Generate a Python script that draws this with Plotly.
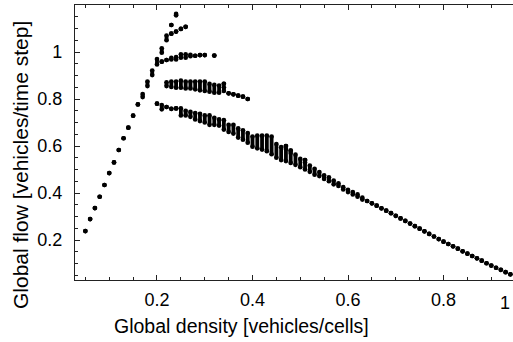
import plotly.graph_objects as go

# Each row: density, lowest flow, highest flow of the cluster of runs at that density
density = [
    0.05, 0.06, 0.07, 0.08, 0.09, 0.10, 0.11, 0.12, 0.13, 0.14, 0.15, 0.16,
    0.17, 0.18, 0.19, 0.20, 0.21, 0.22, 0.23, 0.24,
    0.23, 0.24, 0.25, 0.26,
    0.21, 0.22, 0.23, 0.24, 0.25, 0.26, 0.27, 0.28, 0.29, 0.30, 0.32,
    0.22, 0.23, 0.24, 0.25, 0.26, 0.27, 0.28, 0.29, 0.30, 0.31, 0.32, 0.33, 0.34, 0.34,
    0.35, 0.36, 0.37, 0.38, 0.39,
    0.20, 0.21, 0.22, 0.23, 0.24, 0.25, 0.26, 0.27, 0.28, 0.29, 0.30, 0.31, 0.32, 0.33,
    0.34, 0.35, 0.36, 0.37, 0.38, 0.39, 0.40, 0.41, 0.42, 0.43, 0.44, 0.45, 0.46,
    0.47, 0.47, 0.48, 0.48, 0.49, 0.50, 0.51, 0.51, 0.52, 0.53, 0.54, 0.55, 0.56,
    0.57, 0.58, 0.59, 0.60, 0.61, 0.62, 0.63,
    0.64, 0.65, 0.66, 0.67, 0.68, 0.69, 0.70, 0.71, 0.72, 0.73, 0.74, 0.75, 0.76,
    0.77, 0.78, 0.79, 0.80, 0.81, 0.82, 0.83, 0.84, 0.85, 0.86, 0.87, 0.88, 0.89,
    0.90, 0.91, 0.92, 0.93, 0.94,
]
flow_low = [
    0.238, 0.289, 0.336, 0.384, 0.434, 0.485, 0.530, 0.583, 0.633, 0.678, 0.729, 0.777,
    0.808, 0.855, 0.902, 0.947, 0.997, 1.050, 1.115, 1.156,
    1.078, 1.087, 1.098, 1.107,
    0.959, 0.966, 0.968, 0.968, 0.976, 0.976, 0.982, 0.984, 0.987, 0.987, 0.985,
    0.855, 0.851, 0.848, 0.848, 0.845, 0.845, 0.841, 0.837, 0.834, 0.831, 0.827, 0.827, 0.834, 0.865,
    0.824, 0.820, 0.814, 0.810, 0.800,
    0.780, 0.756, 0.766, 0.758, 0.760, 0.730, 0.730, 0.724, 0.713, 0.706, 0.700, 0.690, 0.690, 0.687,
    0.670, 0.660, 0.653, 0.636, 0.627, 0.614, 0.597, 0.590, 0.585, 0.578, 0.565, 0.550, 0.540,
    0.536, 0.600, 0.528, 0.580, 0.520, 0.510, 0.500, 0.540, 0.490, 0.478, 0.472, 0.460, 0.450,
    0.437, 0.430, 0.415, 0.404, 0.394, 0.384, 0.372,
    0.366, 0.356, 0.346, 0.335, 0.325, 0.314, 0.303, 0.292, 0.281, 0.270, 0.259, 0.248, 0.237,
    0.226, 0.215, 0.204, 0.193, 0.183, 0.173, 0.163, 0.152, 0.142, 0.132, 0.122, 0.112, 0.101,
    0.091, 0.082, 0.073, 0.063, 0.054,
]
flow_high = [
    0.238, 0.289, 0.336, 0.384, 0.434, 0.485, 0.530, 0.583, 0.633, 0.678, 0.729, 0.777,
    0.821, 0.874, 0.921, 0.970, 1.016, 1.070, 1.115, 1.162,
    1.078, 1.087, 1.098, 1.107,
    0.959, 0.966, 0.975, 0.978, 0.990, 0.990, 0.988, 0.984, 0.987, 0.987, 0.985,
    0.871, 0.874, 0.874, 0.878, 0.874, 0.874, 0.874, 0.874, 0.874, 0.864, 0.860, 0.857, 0.850, 0.865,
    0.824, 0.820, 0.814, 0.810, 0.800,
    0.780, 0.774, 0.766, 0.758, 0.760, 0.760, 0.750, 0.745, 0.740, 0.737, 0.730, 0.730, 0.720, 0.713,
    0.710, 0.690, 0.690, 0.675, 0.667, 0.655, 0.640, 0.644, 0.644, 0.644, 0.640, 0.608, 0.595,
    0.587, 0.600, 0.570, 0.580, 0.563, 0.545, 0.530, 0.540, 0.517, 0.503, 0.489, 0.475, 0.467,
    0.453, 0.441, 0.425, 0.413, 0.404, 0.394, 0.380,
    0.366, 0.356, 0.346, 0.335, 0.325, 0.314, 0.303, 0.292, 0.281, 0.270, 0.259, 0.248, 0.237,
    0.226, 0.215, 0.204, 0.193, 0.183, 0.173, 0.163, 0.152, 0.142, 0.132, 0.122, 0.112, 0.101,
    0.091, 0.082, 0.073, 0.063, 0.054,
]

x_ticks = [0.2, 0.4, 0.6, 0.8]
y_ticks = [0.2, 0.4, 0.6, 0.8, 1.0]
x_ticktext = ["0.2", "0.4", "0.6", "0.8"]
y_ticktext = ["0.2", "0.4", "0.6", "0.8", "1"]
x_title = "Global density [vehicles/cells]"
y_title = "Global flow [vehicles/time step]"

xs, ys = [], []
for d, lo, hi in zip(density, flow_low, flow_high):
    xs += [d, d, None]
    ys += [lo, hi, None]

FONT = "Liberation Sans, Arial, sans-serif"

fig = go.Figure()
fig.add_trace(go.Scatter(
    x=xs, y=ys, mode="lines+markers",
    line=dict(color="black", width=3.8),
    marker=dict(color="black", size=4.7, line=dict(width=0)),
    connectgaps=False, showlegend=False, hoverinfo="skip",
))

axis_common = dict(
    showgrid=False, zeroline=False, showline=True, linecolor="#222", linewidth=1.3,
    ticks="inside", ticklen=5, tickwidth=1, tickcolor="#222", automargin=False,
    tickfont=dict(family=FONT, size=18, color="black"),
)

fig.update_xaxes(
    **axis_common, range=[0.0283, 0.9455], tickvals=x_ticks, ticktext=x_ticktext,
    mirror="allticks", ticklabelstandoff=3,
    minor=dict(dtick=0.05, tick0=0, ticks="inside", ticklen=3, tickcolor="#222"),
)
fig.update_yaxes(
    **axis_common, range=[0.0298, 1.2], tickvals=y_ticks, ticktext=y_ticktext,
    minor=dict(dtick=0.05, tick0=0, ticks="inside", ticklen=3, tickcolor="#222"),
    ticklabelstandoff=8,
)

# axis titles placed as annotations to match the reference positions
fig.add_annotation(
    text=x_title, xref="paper", yref="paper", x=0.380, y=-0.167,
    xanchor="center", yanchor="middle", showarrow=False,
    font=dict(family=FONT, size=19.5, color="black"),
)
fig.add_annotation(
    text=y_title, xref="paper", yref="paper", x=-0.1256, y=0.418, textangle=-90,
    xanchor="center", yanchor="middle", showarrow=False,
    font=dict(family=FONT, size=21, color="black"),
)
fig.add_annotation(
    text="1", xref="paper", yref="paper", x=1.0, y=0, xanchor="right", yanchor="top",
    xshift=-1, yshift=-11, showarrow=False, font=dict(family=FONT, size=18, color="black"),
)

fig.update_layout(
    width=513, height=342,
    margin=dict(l=75, r=0, t=5, b=62),
    paper_bgcolor="white", plot_bgcolor="white",
)

fig.write_html(
    "out.html",
    config={"displayModeBar": False},
    post_script="document.body.style.margin='0';document.body.style.padding='0';",
)
